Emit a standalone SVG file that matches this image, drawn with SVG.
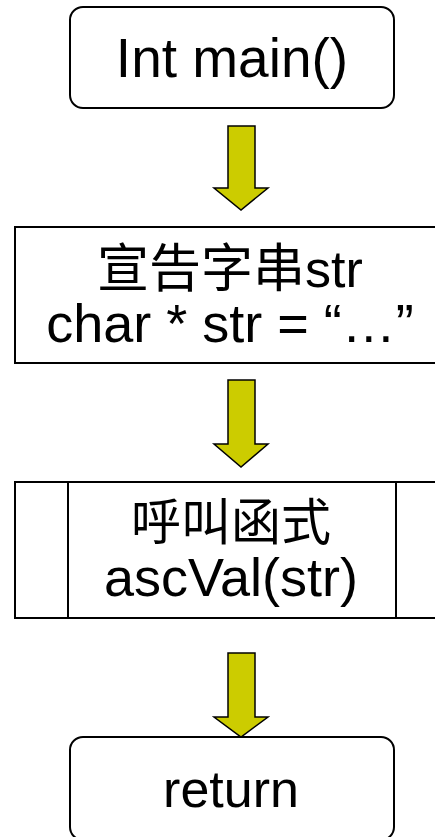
<svg xmlns="http://www.w3.org/2000/svg" width="435" height="837" viewBox="0 0 435 837">
<style>
.box{fill:#fff;stroke:#000;stroke-width:2}
.arr{fill:#cccc00;stroke:#000;stroke-width:1.5;stroke-linejoin:miter}
.t{font-family:"Liberation Sans","Noto Sans CJK TC",sans-serif;font-size:54px;fill:#000;text-anchor:middle}
</style>
<rect width="435" height="837" fill="#fff"/>
<g id="connectors">
<polygon class="arr" points="228,126 255,126 255,188 268,188 241,210 214,188 228,188"/>
<polygon class="arr" points="228,380 255,380 255,444 268,444 241,467 214,444 228,444"/>
<polygon class="arr" points="228,653 255,653 255,717 268,717 241,737 214,717 228,717"/>
</g>
<g id="start">
<rect class="box" x="70" y="7" width="324" height="101" rx="13"/>
<text class="t" x="232" y="77" style="font-size:55px">Int main()</text>
</g>
<g id="declare">
<rect class="box" x="15" y="227" width="430" height="136"/>
<text class="t" x="230" y="287" style="font-size:52px">宣告字串str</text>
<text class="t" x="230" y="342">char * str = “…”</text>
</g>
<g id="call">
<rect class="box" x="15" y="482" width="430" height="136"/>
<line x1="68" y1="482" x2="68" y2="618" stroke="#000" stroke-width="2"/>
<line x1="396" y1="482" x2="396" y2="618" stroke="#000" stroke-width="2"/>
<text class="t" x="231" y="540" style="font-size:50px">呼叫函式</text>
<text class="t" x="231" y="596">ascVal(str)</text>
</g>
<g id="end">
<rect class="box" x="70" y="737" width="324" height="103" rx="13"/>
<text class="t" x="231" y="807" style="font-size:52px">return</text>
</g>
</svg>
